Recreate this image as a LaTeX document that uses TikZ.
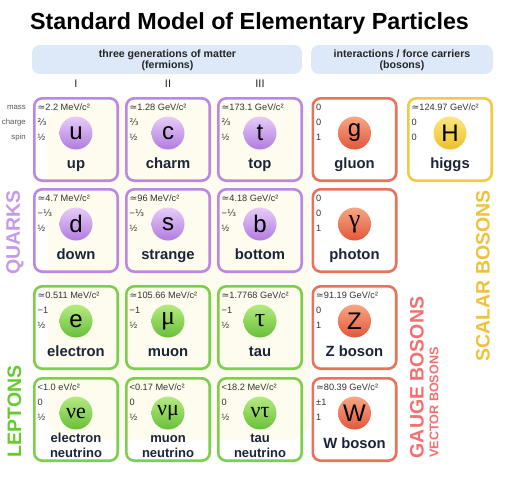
\documentclass[tikz,border=0pt]{standalone}
\usepackage{fontspec}
\setmainfont{Liberation Sans}
\newfontfamily\grk{Liberation Serif}
\newfontfamily\dv{DejaVu Sans}
\usetikzlibrary{calc}
\definecolor{qline}{HTML}{BA87E3}
\definecolor{lline}{HTML}{7DCF4B}
\definecolor{gline}{HTML}{E8735A}
\definecolor{hline}{HTML}{F2CB45}
\definecolor{qtop}{HTML}{E6CDF8}
\definecolor{qbot}{HTML}{B27BDF}
\definecolor{ltop}{HTML}{B6EA82}
\definecolor{lbot}{HTML}{68C038}
\definecolor{gtop}{HTML}{F8A684}
\definecolor{gbot}{HTML}{E2573A}
\definecolor{htop}{HTML}{FAE783}
\definecolor{hbot}{HTML}{EDC02C}
\definecolor{hdrfill}{HTML}{DDE8F8}
\definecolor{cream}{HTML}{FEFCEF}
\definecolor{nametext}{HTML}{1B2539}
\definecolor{infotext}{HTML}{333333}
\definecolor{qlab}{HTML}{C59AEB}
\definecolor{llab}{HTML}{66CA2E}
\definecolor{glab}{HTML}{F47070}
\definecolor{hlab}{HTML}{F0C13A}
\newcommand\apx{{\dv ≃}}
\newcommand\ttw{{\dv ⅔}}
\newcommand\oth{{\dv ⅓}}
\tikzset{
  card/.style={draw, line width=2.6pt, rounded corners=8pt, minimum width=83.4pt, minimum height=82.4pt, inner sep=0pt},
  ball/.style={circle, minimum size=33pt, inner sep=0pt},
  sym/.style={inner sep=0pt, font=\fontsize{24}{24}\selectfont, text=black},
  info/.style={anchor=west, inner sep=0pt, font=\fontsize{9.2}{9.2}\selectfont, text=infotext},
  pname/.style={anchor=base, inner sep=0pt, font=\bfseries\fontsize{14.8}{14.8}\selectfont, text=nametext},
  pnametwo/.style={anchor=base, inner sep=0pt, font=\bfseries\fontsize{13}{13}\selectfont, text=nametext},
  rowlab/.style={anchor=east, inner sep=0pt, font=\fontsize{7.8}{7.8}\selectfont, text=black!65},
  grouplab/.style={rotate=90, inner sep=0pt, font=\bfseries\fontsize{19.5}{19.5}\selectfont},
  hdr/.style={fill=hdrfill, rounded corners=8pt, minimum height=29pt, inner sep=0pt},
  hdrtext/.style={anchor=base, inner sep=0pt, font=\bfseries\fontsize{10.6}{10.6}\selectfont, text=black!85},
  gen/.style={anchor=base, inner sep=0pt, font=\fontsize{11}{11}\selectfont, text=black!85},
}
% id, cx, cy, family, mass, charge, spin, symbol
\newcommand\pcard[8]{%
  \node[card, draw=#4line] (#1) at (#2,#3) {};
  \node[info] (#1-mass) at (#2-38.5,#3-32.5) {#5};
  \node[info] (#1-charge) at (#2-38.5,#3-17.5) {#6};
  \node[info] (#1-spin) at (#2-38.5,#3-2.5) {#7};
  \node[ball, top color=#4top, bottom color=#4bot] (#1-ball) at (#2,#3-6.5) {};
  \node[sym] (#1-sym) at (#2,#3-6.5) {#8};
}
\begin{document}
\begin{tikzpicture}[x=1pt,y=-1pt]
\useasboundingbox (0,0) rectangle (511,480);
\fill[white] (0,0) rectangle (511,480);
\fill[cream, rounded corners=22pt] (48,102) rectangle (310,440);

\node[anchor=base, inner sep=0pt, font=\bfseries\fontsize{23.3}{23.3}\selectfont] (title) at (249.5,29) {Standard Model of Elementary Particles};

\node[hdr, minimum width=270pt] (hf) at (167,59.5) {};
\node[hdr, minimum width=182pt] (hb) at (402,59.5) {};
\node[hdrtext] (hf1) at (167.5,57) {three generations of matter};
\node[hdrtext] (hf2) at (167.5,68.5) {(fermions)};
\node[hdrtext] (hb1) at (402,57) {interactions / force carriers};
\node[hdrtext] (hb2) at (402,68.5) {(bosons)};

\node[gen] (g1) at (76,87) {I};
\node[gen] (g2) at (168,87) {II};
\node[gen] (g3) at (260,87) {III};

\node[rowlab] (lm) at (26,107) {mass};
\node[rowlab] (lc) at (26,122) {charge};
\node[rowlab] (ls) at (26,137) {spin};

% row 1
\pcard{u}{76}{139.5}{q}{\apx2.2 MeV/c²}{\ttw}{½}{u}
\pcard{c}{168}{139.5}{q}{\apx1.28 GeV/c²}{\ttw}{½}{c}
\pcard{t}{260}{139.5}{q}{\apx173.1 GeV/c²}{\ttw}{½}{t}
\pcard{g}{354.5}{139.5}{g}{0}{0}{1}{g}
\pcard{H}{450}{139.5}{h}{\apx124.97 GeV/c²}{0}{0}{H}
\node[pname] (u-name) at (76,168.5) {up};
\node[pname] (c-name) at (168,168.5) {charm};
\node[pname] (t-name) at (260,168.5) {top};
\node[pname] (g-name) at (354.5,168.5) {gluon};
\node[pname] (H-name) at (450,168.5) {higgs};

% row 2
\pcard{d}{76}{230.5}{q}{\apx4.7 MeV/c²}{−\oth}{½}{d}
\pcard{s}{168}{230.5}{q}{\apx96 MeV/c²}{−\oth}{½}{s}
\pcard{b}{260}{230.5}{q}{\apx4.18 GeV/c²}{−\oth}{½}{b}
\pcard{ph}{354.5}{230.5}{g}{0}{0}{1}{\grk\fontsize{26}{26}\selectfont γ}
\node[pname] (d-name) at (76,259.5) {down};
\node[pname] (s-name) at (168,259.5) {strange};
\node[pname] (b-name) at (260,259.5) {bottom};
\node[pname] (ph-name) at (354.5,259.5) {photon};

% row 3
\pcard{e}{76}{327.5}{l}{\apx0.511 MeV/c²}{−1}{½}{e}
\pcard{mu}{168}{327.5}{l}{\apx105.66 MeV/c²}{−1}{½}{\grk\fontsize{26}{26}\selectfont μ}
\pcard{tau}{260}{327.5}{l}{\apx1.7768 GeV/c²}{−1}{½}{\grk\fontsize{26}{26}\selectfont τ}
\pcard{Z}{354.5}{327.5}{g}{\apx91.19 GeV/c²}{0}{1}{Z}
\node[pname] (e-name) at (76,356.5) {electron};
\node[pname] (mu-name) at (168,356.5) {muon};
\node[pname] (tau-name) at (260,356.5) {tau};
\node[pname] (Z-name) at (354.5,356.5) {Z boson};

% row 4
\pcard{ve}{76}{419.5}{l}{<1.0 eV/c²}{0}{½}{\grk\fontsize{22}{22}\selectfont νe}
\pcard{vm}{168}{419.5}{l}{<0.17 MeV/c²}{0}{½}{\grk\fontsize{22}{22}\selectfont νμ}
\pcard{vt}{260}{419.5}{l}{<18.2 MeV/c²}{0}{½}{\grk\fontsize{22}{22}\selectfont ντ}
\pcard{W}{354.5}{419.5}{g}{\apx80.39 GeV/c²}{±1}{1}{W}
\node[pnametwo] (ve-name1) at (76,442) {electron};
\node[pnametwo] (ve-name2) at (76,457) {neutrino};
\node[pnametwo] (vm-name1) at (168,442) {muon};
\node[pnametwo] (vm-name2) at (168,457) {neutrino};
\node[pnametwo] (vt-name1) at (260,442) {tau};
\node[pnametwo] (vt-name2) at (260,457) {neutrino};
\node[pname] (W-name) at (354.5,448.5) {W boson};

% group labels
\node[grouplab, text=qlab] (quarks) at (15,232.5) {QUARKS};
\node[grouplab, text=llab] (leptons) at (14.5,411.5) {LEPTONS};
\node[grouplab, text=glab] (gauge) at (417,377.5) {GAUGE BOSONS};
\node[grouplab, text=glab, font=\bfseries\fontsize{12.6}{12.6}\selectfont] (vector) at (434,402.5) {VECTOR BOSONS};
\node[grouplab, text=hlab] (scalar) at (483,276) {SCALAR BOSONS};
\end{tikzpicture}
\end{document}
